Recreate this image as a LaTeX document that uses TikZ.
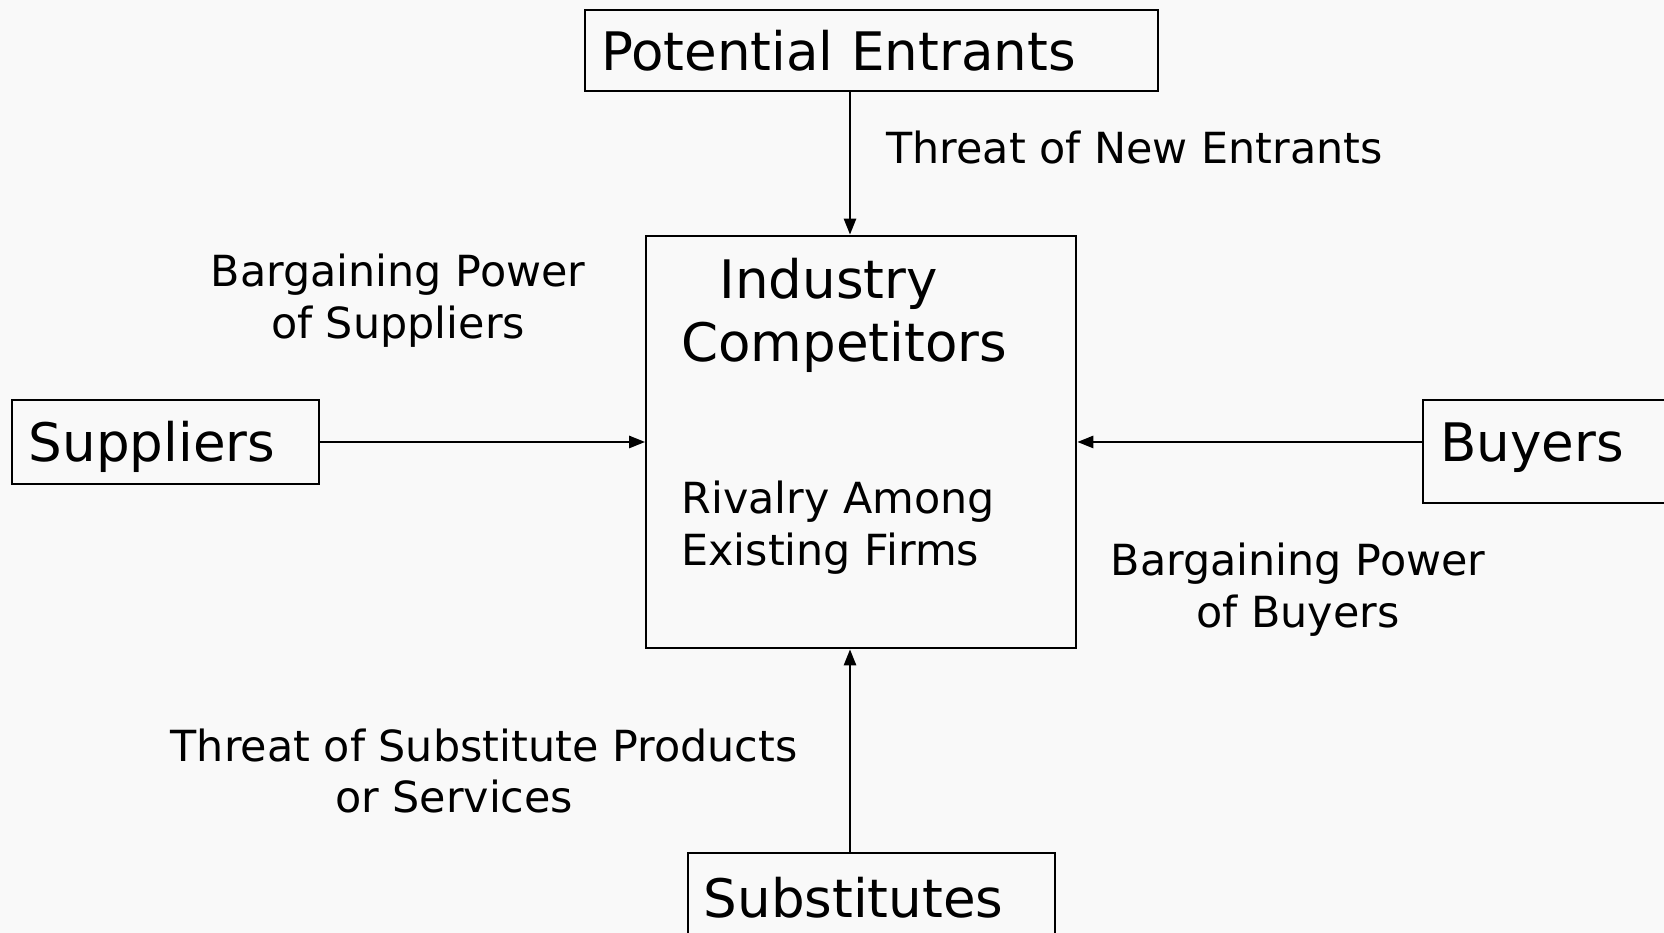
\documentclass[tikz,border=0pt]{standalone}
\usepackage{fontspec}
\setmainfont{DejaVu Sans}
\usepackage{tikz}
\usetikzlibrary{arrows.meta, positioning}

\newlength{\px}
\setlength{\px}{0.02cm}
\newcommand{\bigfont}{\fontsize{30.2}{36}\selectfont}
\newcommand{\smallfont}{\fontsize{24.4}{29.5}\selectfont}
\definecolor{paper}{gray}{0.975}

\tikzset{
    force/.style={draw, line width=1.4pt, anchor=north west, align=left, inner ysep=0pt, text height=30pt, font=\bigfont},
    threat/.style={inner sep=0pt, font=\smallfont},
    push/.style={line width=0.9pt, -{Triangle[length=9pt, width=7pt]}}
}

\begin{document}
\begin{tikzpicture}[x=0.02cm, y=-0.02cm]
                    \useasboundingbox (0, 0) rectangle (1664, 933);
                    \clip (0, 0) rectangle (1664, 933);
                    \fill[paper] (0, 0) rectangle (1664, 933);

                    % the five forces
                    \node[force, inner xsep=16\px, text width=541\px, minimum height=81.5*\px, text depth=6.8pt] (entrants) at (584, 8.5) {Potential Entrants};
                    \node[draw, line width=1.4pt, anchor=north west, inner sep=0pt, minimum width=430*\px, minimum height=412.5*\px] (rivals) at (645, 234.5) {};
                    \node[force, inner xsep=17\px, text width=273.4\px, minimum height=84*\px, text depth=7.6pt] (suppliers) at (10.6, 399) {Suppliers};
                    \node[force, inner xsep=17\px, text width=226\px, minimum height=103*\px, text depth=18.4pt] (buyers) at (1422, 399) {Buyers};
                    \node[force, inner xsep=15.5\px, text width=336\px, minimum height=100*\px, text depth=14.1pt] (subs) at (687, 852) {Substitutes};

                    \node[inner sep=0pt, anchor=west, align=left, font=\bigfont] (industry) at (681, 315) {\hspace*{21.8pt}Industry\\Competitors};
                    \node[threat, anchor=west, align=left] (rivalry) at (681, 528) {Rivalry Among\\Existing Firms};

                    % labels
                    \node[threat, anchor=west] (newthreat) at (886, 147.5) {Threat of New Entrants};
                    \node[threat, align=center] (suppower) at (398, 301) {Bargaining Power\\of Suppliers};
                    \node[threat, align=center] (buypower) at (1298, 590) {Bargaining Power\\of Buyers};
                    \node[threat, align=center] (subthreat) at (484, 771) {Threat of Substitute Products\\or Services\hspace*{34pt}};

                    \coordinate (axis) at (850, 0);

                    \draw[push] (entrants.south -| axis) -- (rivals.north -| axis);
                    \draw[push] (subs.north -| axis) -- (rivals.south -| axis);
                    \draw[push] (suppliers.east |- rivals.west) -- (rivals.west);
                    \draw[push] (buyers.west |- rivals.east) -- (rivals.east);
                \end{tikzpicture}
\end{document}
